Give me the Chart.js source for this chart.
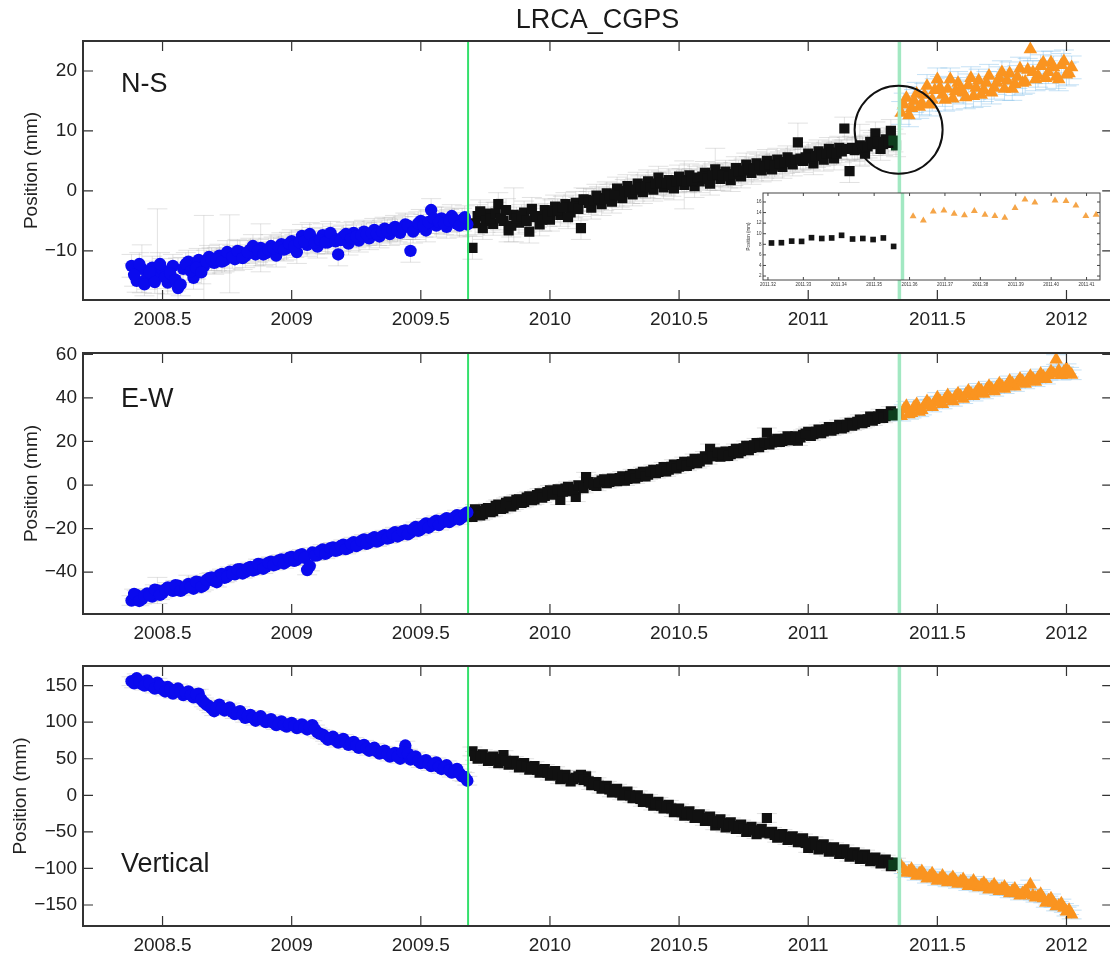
<!DOCTYPE html>
<html>
<head>
<meta charset="utf-8">
<title>LRCA_CGPS</title>
<script src="https://cdn.jsdelivr.net/npm/chart.js@4.4.1/dist/chart.umd.min.js"></script>
<style>
  html, body { margin: 0; padding: 0; background: #fff; }
  body { width: 1110px; height: 955px; overflow: hidden; position: relative; }
  canvas { position: absolute; left: 0; }
</style>
</head>
<body>
<canvas id="ns" width="1120" height="340" style="top:0"></canvas>
<canvas id="ew" width="1120" height="324" style="top:330px"></canvas>
<canvas id="up" width="1120" height="326" style="top:640px"></canvas>
<canvas id="inset" width="365" height="113" style="left:745px;top:186px"></canvas>
<script>
const FONT = '"Liberation Sans", Arial, Helvetica, sans-serif';

// epochs (decimal year), shared by the three components.
// "A" epochs on even hundredths, "B" epochs on odd hundredths.
const tBlue = [
  2008.38, 2008.40, 2008.42, 2008.44, 2008.46, 2008.48, 2008.50, 2008.52, 2008.54, 2008.56,
  2008.58, 2008.60, 2008.62, 2008.64, 2008.66, 2008.68, 2008.70, 2008.72, 2008.74, 2008.76,
  2008.78, 2008.80, 2008.82, 2008.84, 2008.86, 2008.88, 2008.90, 2008.92, 2008.94, 2008.96,
  2008.98, 2009.00, 2009.02, 2009.04, 2009.06, 2009.08, 2009.10, 2009.12, 2009.14, 2009.16,
  2009.18, 2009.20, 2009.22, 2009.24, 2009.26, 2009.28, 2009.30, 2009.32, 2009.34, 2009.36,
  2009.38, 2009.40, 2009.42, 2009.44, 2009.46, 2009.48, 2009.50, 2009.52, 2009.54, 2009.56,
  2009.58, 2009.60, 2009.62, 2009.64, 2009.66, 2009.68
];
const tBlueB = [
  2008.39, 2008.41, 2008.43, 2008.45, 2008.47, 2008.49, 2008.51, 2008.53, 2008.55, 2008.57,
  2008.59, 2008.61, 2008.63, 2008.65, 2008.67, 2008.69, 2008.71, 2008.73, 2008.75, 2008.77,
  2008.79, 2008.81, 2008.83, 2008.85, 2008.87, 2008.89, 2008.91, 2008.93, 2008.95, 2008.97,
  2008.99, 2009.01, 2009.03, 2009.05, 2009.07, 2009.09, 2009.11, 2009.13, 2009.15, 2009.17,
  2009.19, 2009.21, 2009.23, 2009.25, 2009.27, 2009.29, 2009.31, 2009.33, 2009.35, 2009.37,
  2009.39, 2009.41, 2009.43, 2009.45, 2009.47, 2009.49, 2009.51, 2009.53, 2009.55, 2009.57,
  2009.59, 2009.61, 2009.63, 2009.65, 2009.67
];
const tBlack = [
  2009.70, 2009.72, 2009.74, 2009.76, 2009.78, 2009.80, 2009.82, 2009.84, 2009.86, 2009.88,
  2009.90, 2009.92, 2009.94, 2009.96, 2009.98, 2010.00, 2010.02, 2010.04, 2010.06, 2010.08,
  2010.10, 2010.12, 2010.14, 2010.16, 2010.18, 2010.20, 2010.22, 2010.24, 2010.26, 2010.28,
  2010.30, 2010.32, 2010.34, 2010.36, 2010.38, 2010.40, 2010.42, 2010.44, 2010.46, 2010.48,
  2010.50, 2010.52, 2010.54, 2010.56, 2010.58, 2010.60, 2010.62, 2010.64, 2010.66, 2010.68,
  2010.70, 2010.72, 2010.74, 2010.76, 2010.78, 2010.80, 2010.82, 2010.84, 2010.86, 2010.88,
  2010.90, 2010.92, 2010.94, 2010.96, 2010.98, 2011.00, 2011.02, 2011.04, 2011.06, 2011.08,
  2011.10, 2011.12, 2011.14, 2011.16, 2011.18, 2011.20, 2011.22, 2011.24, 2011.26, 2011.28,
  2011.30, 2011.32, 2011.34
];
const tBlackB = [
  2009.71, 2009.73, 2009.75, 2009.77, 2009.79, 2009.81, 2009.83, 2009.85, 2009.87, 2009.89,
  2009.91, 2009.93, 2009.95, 2009.97, 2009.99, 2010.01, 2010.03, 2010.05, 2010.07, 2010.09,
  2010.11, 2010.13, 2010.15, 2010.17, 2010.19, 2010.21, 2010.23, 2010.25, 2010.27, 2010.29,
  2010.31, 2010.33, 2010.35, 2010.37, 2010.39, 2010.41, 2010.43, 2010.45, 2010.47, 2010.49,
  2010.51, 2010.53, 2010.55, 2010.57, 2010.59, 2010.61, 2010.63, 2010.65, 2010.67, 2010.69,
  2010.71, 2010.73, 2010.75, 2010.77, 2010.79, 2010.81, 2010.83, 2010.85, 2010.87, 2010.89,
  2010.91, 2010.93, 2010.95, 2010.97, 2010.99, 2011.01, 2011.03, 2011.05, 2011.07, 2011.09,
  2011.11, 2011.13, 2011.15, 2011.17, 2011.19, 2011.21, 2011.23, 2011.25, 2011.27, 2011.29,
  2011.31, 2011.33
];
const tOrange = [
  2011.36, 2011.38, 2011.40, 2011.42, 2011.44, 2011.46, 2011.48, 2011.50, 2011.52, 2011.54,
  2011.56, 2011.58, 2011.60, 2011.62, 2011.64, 2011.66, 2011.68, 2011.70, 2011.72, 2011.74,
  2011.76, 2011.78, 2011.80, 2011.82, 2011.84, 2011.86, 2011.88, 2011.90, 2011.92, 2011.94,
  2011.96, 2011.98, 2012.00, 2012.02
];
const tOrangeB = [
  2011.37, 2011.39, 2011.41, 2011.43, 2011.45, 2011.47, 2011.49, 2011.51, 2011.53, 2011.55,
  2011.57, 2011.59, 2011.61, 2011.63, 2011.65, 2011.67, 2011.69, 2011.71, 2011.73, 2011.75,
  2011.77, 2011.79, 2011.81, 2011.83, 2011.85, 2011.87, 2011.89, 2011.91, 2011.93, 2011.95,
  2011.97, 2011.99, 2012.01
];

// N-S position (mm)
const nsBlue = [
  -12.5, -15.0, -13.0, -14.5, -12.8, -14.0, -13.2, -15.3, -12.5, -16.2,
  -13.0, -11.8, -14.5, -11.5, -12.6, -11.0, -12.0, -10.8, -11.6, -10.5,
  -11.4, -10.2, -10.9, -9.8, -10.6, -9.5, -10.4, -9.2, -10.8, -8.9,
  -9.6, -8.4, -10.2, -7.5, -9.0, -8.0, -9.3, -7.4, -8.6, -7.8,
  -10.6, -7.6, -8.8, -7.0, -8.3, -6.8, -7.9, -6.5, -7.6, -6.3,
  -7.2, -6.0, -7.0, -5.6, -10.0, -6.2, -5.0, -6.6, -3.2, -5.8,
  -4.6, -6.0, -4.2, -5.5, -4.8, -5.6
];
const nsBlueB = [
  -14.0, -12.2, -15.6, -13.6, -15.2, -12.2, -14.4, -13.8, -14.8, -15.6,
  -12.2, -13.4, -12.8, -13.6, -11.8, -11.4, -11.4, -11.8, -10.2, -11.0,
  -10.0, -11.2, -10.2, -9.2, -10.0, -10.6, -9.8, -9.6, -9.4, -9.8,
  -8.8, -9.2, -8.6, -8.4, -7.2, -8.6, -8.2, -8.6, -7.0, -8.4,
  -8.2, -7.2, -8.0, -7.6, -7.4, -7.2, -7.0, -7.2, -6.8, -6.6,
  -6.4, -6.6, -6.2, -5.8, -6.8, -5.4, -5.8, -5.2, -4.6, -5.2,
  -5.4, -5.0, -4.8, -5.8, -4.4
];
const nsBlack = [
  -9.5, -4.2, -6.2, -3.8, -5.5, -2.2, -5.0, -6.6, -4.0, -5.3,
  -3.6, -6.8, -4.4, -5.6, -3.2, -4.8, -2.6, -4.0, -2.2, -3.6,
  -2.0, -6.2, -1.5, -2.8, -0.8, -2.2, -0.4, -1.8, 0.4, -1.2,
  0.8, -0.6, 1.2, -0.2, 1.6, 0.2, 2.2, 0.6, 1.8, 0.4,
  2.4, 1.0, 2.6, 0.8, 1.6, 3.0, 1.2, 3.6, 2.0, 3.2,
  1.8, 3.8, 2.4, 4.4, 3.0, 4.6, 3.4, 5.0, 3.6, 5.2,
  4.0, 5.6, 4.4, 8.1, 5.0, 6.2, 4.6, 6.6, 5.2, 7.0,
  5.4, 7.2, 10.4, 3.3, 6.8, 7.6, 6.2, 8.2, 9.6, 7.0,
  8.6, 10.0, 7.6
];
const nsBlackB = [
  -5.4, -3.4, -5.0, -4.6, -3.8, -4.6, -3.2, -5.8, -4.6, -4.2,
  -5.0, -3.0, -4.2, -4.8, -4.0, -3.4, -3.2, -2.8, -4.4, -2.6,
  -3.0, -1.4, -2.0, -1.6, -1.2, -1.4, -0.8, -0.6, -0.8, 0.0,
  -0.2, 0.2, 0.6, 0.8, 0.6, 1.2, 1.4, 1.2, 1.0, 1.6,
  1.8, 1.6, 1.8, 2.2, 2.4, 2.0, 2.6, 2.8, 2.6, 2.4,
  2.8, 3.2, 3.4, 3.8, 3.6, 4.2, 4.0, 4.4, 4.2, 4.6,
  4.8, 5.0, 5.2, 5.4, 5.6, 5.4, 5.8, 6.0, 6.2, 6.4,
  6.2, 6.6, 7.0, 7.2, 7.0, 7.2, 7.4, 7.8, 8.2, 7.8,
  8.0, 8.4
];
const nsOrange = [
  13.0, 15.5, 13.8, 16.2, 14.6, 17.5, 15.2, 18.6, 16.0, 17.0,
  15.4, 18.0, 16.4, 17.6, 15.8, 18.4, 16.8, 19.2, 17.2, 18.8,
  17.0, 19.6, 17.8, 20.4, 18.2, 23.6, 18.6, 20.8, 18.8, 21.4,
  19.0, 21.0, 19.4, 20.6
];
const nsOrangeB = [
  14.4, 12.6, 15.0, 14.0, 16.0, 14.4, 16.8, 17.2, 15.2, 18.6,
  16.6, 17.0, 15.6, 18.8, 17.2, 16.0, 18.0, 16.4, 18.0, 19.8,
  18.4, 17.0, 19.0, 18.0, 20.2, 19.8, 19.2, 21.4, 19.8, 20.6,
  18.6, 21.6, 19.6
];

// E-W position (mm)
const ewBlue = [
  -53.0, -50.6, -52.4, -49.8, -51.2, -48.4, -49.6, -47.0, -48.6, -46.2,
  -47.8, -45.4, -47.6, -44.6, -46.0, -42.8, -44.0, -41.4, -42.6, -39.8,
  -41.0, -38.6, -40.0, -37.6, -38.8, -36.4, -37.6, -35.2, -36.4, -34.2,
  -35.2, -33.0, -34.2, -31.8, -39.0, -31.0, -32.2, -29.6, -30.8, -28.6,
  -29.8, -27.4, -28.8, -26.2, -27.4, -25.0, -26.4, -24.0, -25.4, -23.0,
  -24.2, -21.6, -23.0, -20.8, -21.8, -19.2, -20.4, -17.6, -18.6, -16.4,
  -17.4, -15.2, -16.2, -13.8, -14.8, -12.6
];
const ewBlueB = [
  -50.0, -53.2, -50.8, -50.6, -48.0, -50.4, -48.0, -47.8, -46.0, -48.6,
  -47.0, -46.8, -44.4, -46.8, -43.6, -42.4, -44.6, -40.8, -42.0, -40.8,
  -38.8, -40.6, -38.2, -39.2, -36.2, -38.4, -35.6, -36.8, -34.6, -36.0,
  -33.4, -34.8, -32.2, -33.4, -37.2, -32.4, -30.4, -31.6, -29.0, -30.2,
  -28.0, -29.4, -27.0, -28.0, -25.6, -27.0, -24.6, -26.0, -23.6, -24.6,
  -22.4, -23.6, -21.2, -22.6, -20.2, -21.0, -18.6, -19.6, -17.2, -18.4,
  -16.0, -17.0, -14.8, -15.8, -13.4
];
const ewBlack = [
  -14.6, -12.0, -13.4, -10.6, -12.0, -9.0, -10.6, -7.6, -9.0, -6.6,
  -7.8, -5.2, -6.6, -3.8, -5.0, -2.4, -3.8, -6.8, -1.6, -2.8,
  -5.4, -0.8, 3.6, 0.6, -0.4, 2.0, 0.8, 3.0, 1.8, 4.0,
  2.8, 5.0, 3.8, 6.0, 4.8, 7.0, 6.0, 8.2, 7.0, 9.4,
  8.4, 10.6, 9.6, 12.0, 10.8, 13.2, 16.6, 14.0, 13.0, 15.4,
  14.2, 16.6, 15.6, 18.0, 17.0, 19.2, 18.4, 24.0, 19.6, 21.2,
  20.2, 22.4, 21.4, 20.4, 23.0, 24.4, 23.4, 25.4, 24.6, 26.6,
  25.6, 27.6, 26.6, 28.6, 27.8, 30.0, 29.0, 31.4, 30.4, 32.6,
  31.6, 33.8, 32.8
];
const ewBlackB = [
  -11.2, -14.0, -11.0, -12.4, -9.6, -11.0, -8.2, -9.8, -6.8, -8.2,
  -5.8, -7.0, -4.6, -5.8, -3.2, -4.4, -2.0, -3.0, -0.8, -2.0,
  -0.2, -1.4, 1.4, 0.0, 1.2, 2.6, 1.4, 2.4, 3.2, 2.0,
  4.2, 3.0, 5.2, 4.0, 6.2, 5.4, 7.2, 6.2, 8.4, 7.6,
  9.6, 8.8, 10.8, 10.0, 12.0, 11.8, 13.2, 15.0, 14.0, 13.4,
  15.6, 14.6, 16.8, 16.0, 18.2, 17.4, 19.4, 18.6, 20.4, 19.8,
  21.2, 20.6, 22.4, 21.8, 23.6, 22.6, 24.4, 23.8, 25.6, 25.0,
  26.6, 26.0, 27.6, 27.2, 29.0, 28.4, 30.2, 29.6, 31.4, 30.8,
  32.6, 32.0
];
const ewOrange = [
  31.6, 36.2, 33.0, 37.0, 34.4, 38.4, 35.8, 40.2, 37.2, 41.2,
  38.4, 42.0, 39.6, 43.2, 40.8, 44.4, 41.8, 45.4, 43.0, 46.6,
  44.2, 47.8, 45.2, 48.8, 46.4, 50.0, 47.4, 51.0, 48.6, 52.2,
  57.6, 50.4, 53.4, 50.6
];
const ewOrangeB = [
  34.6, 32.4, 35.8, 33.6, 36.6, 37.2, 37.8, 38.6, 39.4, 39.6,
  40.6, 40.8, 41.6, 42.0, 42.6, 43.2, 43.8, 44.2, 44.8, 45.4,
  45.8, 46.6, 47.0, 47.6, 48.2, 48.8, 49.2, 49.8, 50.4, 51.0,
  52.6, 52.0, 51.8
];

// Vertical position (mm)
const upBlue = [
  156, 160, 152, 157, 149, 154, 145, 148, 139, 146,
  137, 142, 134, 139, 127, 122, 115, 124, 116, 120,
  111, 115, 106, 110, 102, 108, 100, 104, 96, 101,
  94, 99, 92, 97, 90, 96, 86, 83, 76, 80,
  72, 77, 69, 73, 65, 69, 61, 65, 57, 61,
  53, 58, 50, 68, 49, 53, 44, 48, 40, 45,
  36, 41, 31, 36, 26, 20
];
const upBlueB = [
  153, 156, 150, 153, 146, 150, 142, 145, 143, 141,
  140, 137, 138, 131, 124, 119, 120, 119, 118, 114,
  113, 110, 108, 106, 105, 103, 102, 99, 98, 96,
  97, 95, 94, 93, 93, 90, 84, 80, 78, 75,
  74, 72, 71, 68, 67, 64, 63, 60, 59, 56,
  56, 53, 59, 57, 51, 47, 46, 43, 42, 39,
  38, 34, 33, 30, 25
];
const upBlack = [
  60, 50, 56, 47, 53, 44, 55, 42, 47, 38,
  44, 35, 40, 31, 36, 27, 33, 22, 28, 19,
  24, 28, 26, 14, 18, 9, 13, 4, 9, 0,
  5, -4, 0, -9, -5, -14, -9, -18, -13, -23,
  -18, -28, -22, -31, -26, -35, -29, -41, -33, -44,
  -37, -46, -40, -50, -43, -53, -46, -31, -50, -58,
  -53, -61, -56, -64, -59, -72, -63, -74, -67, -77,
  -71, -80, -74, -84, -78, -87, -81, -90, -85, -93,
  -88, -97, -92
];
const upBlackB = [
  54, 53, 51, 50, 48, 50, 47, 45, 43, 41,
  39, 38, 35, 34, 31, 30, 28, 25, 23, 22,
  26, 21, 19, 16, 13, 11, 8, 7, 4, 2,
  0, -2, -5, -7, -10, -11, -14, -16, -18, -20,
  -23, -25, -27, -28, -31, -32, -35, -37, -38, -40,
  -42, -43, -45, -47, -48, -50, -51, -52, -54, -55,
  -57, -58, -60, -62, -65, -67, -68, -70, -72, -74,
  -75, -77, -79, -81, -82, -84, -86, -87, -89, -91,
  -92, -95
];
const upOrange = [
  -97, -106, -101, -110, -104, -114, -107, -117, -110, -119,
  -112, -121, -115, -124, -117, -126, -120, -129, -122, -131,
  -125, -134, -128, -137, -131, -122, -140, -135, -147, -141,
  -152, -148, -159, -163
];
const upOrangeB = [
  -101, -104, -106, -107, -109, -111, -112, -114, -115, -116,
  -117, -118, -120, -121, -122, -123, -124, -126, -127, -128,
  -130, -131, -133, -134, -135, -137, -138, -141, -144, -147,
  -151, -154, -157
];

// one-sigma error (mm): usual size, plus the few long bars
const nsSigma = 1.9;
const nsWideErr = [[2008.42, 4], [2008.48, 11], [2008.56, 5], [2008.66, 8.5], [2008.76, 6.5],
  [2008.88, 4], [2009.86, 4.5], [2010.52, 4], [2010.64, 3.5], [2010.96, 3.2], [2011.20, 3.5]];
const ewSigma = 2.2;
const ewWideErr = [[2008.48, 6], [2008.60, 4]];
const upSigma = 6;

const eventT = [2009.683, 2011.353];

const xTicks = [2008.5, 2009, 2009.5, 2010, 2010.5, 2011, 2011.5, 2012];
const nsTicks = [-10, 0, 10, 20];
const ewTicks = [-40, -20, 0, 20, 40, 60];
const upTicks = [-150, -100, -50, 0, 50, 100, 150];

// inset: daily N-S solutions around the second event
const insetBlackT = [2011.3210, 2011.3238, 2011.3267, 2011.3295, 2011.3323, 2011.3352, 2011.3380,
  2011.3408, 2011.3439, 2011.3468, 2011.3497, 2011.3526, 2011.3555];
const insetBlackY = [8.25, 8.3, 8.6, 8.55, 9.25, 9.1, 9.2, 9.7, 9.0, 9.1, 8.9, 9.2, 7.6];
const insetOrangeT = [2011.3610, 2011.3639, 2011.3667, 2011.3697, 2011.3726, 2011.3755, 2011.3783,
  2011.3813, 2011.3841, 2011.3869, 2011.3898, 2011.3926, 2011.3954, 2011.4011, 2011.4042,
  2011.4070, 2011.4098, 2011.4127];
const insetOrangeY = [13.3, 12.5, 14.2, 14.4, 13.8, 13.5, 14.3, 13.6, 13.35, 13.0, 14.85, 16.45,
  15.9, 16.3, 16.2, 15.35, 13.35, 13.6];
const insetEventT = 2011.358;
const insetTicksX = [2011.32, 2011.33, 2011.34, 2011.35, 2011.36, 2011.37, 2011.38, 2011.39, 2011.40, 2011.41];
const insetTicksY = [2, 4, 6, 8, 10, 12, 14, 16];

const BLUE = '#0a0aee', BLACK = '#111111', TAIL = '#0c3d1c', ORANGE = '#fa9420';
const GRAY_ERR = 'rgba(150,150,150,0.28)', BLUE_ERR = 'rgba(110,180,230,0.4)';

function pts(t, v) { return t.map((x, i) => ({ x: x, y: v[i] })); }
function sigmas(t, base, wide) {
  return t.map(x => {
    const w = (wide || []).find(p => Math.abs(p[0] - x) < 0.005);
    return w ? w[1] : base;
  });
}
function minus(v) { return v < 0 ? '\u2212' + Math.abs(v) : String(v); }

const decor = {
  id: 'decor',
  beforeDatasetsDraw(chart) {
    const { ctx, chartArea: a, scales: { x, y } } = chart;
    ctx.save();
    ctx.beginPath();
    ctx.rect(a.left, a.top, a.right - a.left, a.bottom - a.top);
    ctx.clip();
    ctx.lineWidth = 1;
    chart.data.datasets.forEach(ds => {
      if (!ds.sigma) return;
      ctx.strokeStyle = ds.errColor;
      ds.data.forEach((p, i) => {
        const px = x.getPixelForValue(p.x);
        const y1 = y.getPixelForValue(p.y - ds.sigma[i]);
        const y2 = y.getPixelForValue(p.y + ds.sigma[i]);
        ctx.beginPath();
        ctx.moveTo(px, y1); ctx.lineTo(px, y2);
        ctx.moveTo(px - 10, y1); ctx.lineTo(px + 10, y1);
        ctx.moveTo(px - 10, y2); ctx.lineTo(px + 10, y2);
        ctx.stroke();
      });
    });
    ctx.restore();
  },
  afterDatasetsDraw(chart, args, opts) {
    const { ctx, chartArea: a, scales: { x, y } } = chart;
    ctx.save();
    (opts.events || []).forEach(ev => {
      const px = x.getPixelForValue(ev.t);
      ctx.strokeStyle = ev.color;
      ctx.lineWidth = ev.width;
      ctx.beginPath();
      ctx.moveTo(px, a.top); ctx.lineTo(px, a.bottom);
      ctx.stroke();
    });
    if (opts.circle) {
      ctx.strokeStyle = '#111';
      ctx.lineWidth = 2;
      ctx.beginPath();
      ctx.arc(x.getPixelForValue(opts.circle.x), y.getPixelForValue(opts.circle.y), opts.circle.r, 0, Math.PI * 2);
      ctx.stroke();
    }
    ctx.strokeStyle = opts.frameColor || '#333';
    ctx.lineWidth = opts.frameWidth || 2;
    ctx.strokeRect(a.left, a.top, a.right - a.left, a.bottom - a.top);
    const L = opts.tickLen || 10;
    ctx.lineWidth = opts.tickWidth || 1.2;
    ctx.beginPath();
    x.ticks.forEach(t => {
      const px = x.getPixelForValue(t.value);
      ctx.moveTo(px, a.bottom); ctx.lineTo(px, a.bottom - L);
      ctx.moveTo(px, a.top); ctx.lineTo(px, a.top + L);
    });
    y.ticks.forEach(t => {
      const py = y.getPixelForValue(t.value);
      ctx.moveTo(a.left, py); ctx.lineTo(a.left + L, py);
      ctx.moveTo(a.right, py); ctx.lineTo(a.right - L, py);
    });
    ctx.stroke();
    if (opts.label) {
      ctx.fillStyle = '#1a1a1a';
      ctx.font = '27px ' + FONT;
      ctx.textBaseline = 'alphabetic';
      ctx.textAlign = 'left';
      ctx.fillText(opts.label, a.left + 38, a.top + opts.labelDy);
    }
    ctx.restore();
  }
};

function series(t, v, shape, r, color, sig, errColor) {
  return {
    data: pts(t, v), sigma: sig, errColor: errColor,
    pointStyle: shape, pointRadius: r, pointBorderWidth: 0,
    pointBackgroundColor: color, showLine: false
  };
}

function makePanel(id, p) {
  // the last few days before the second event are plotted in dark green
  const tailColor = c => (c.raw && c.raw.x > 2011.325 ? TAIL : BLACK);
  const tB = tBlue.concat(tBlueB), tK = tBlack.concat(tBlackB), tO = tOrange.concat(tOrangeB);
  return new Chart(document.getElementById(id), {
    type: 'scatter',
    data: {
      datasets: [
        series(tB, p.blue, 'circle', 6.2, BLUE, sigmas(tB, p.sigma, p.wide), GRAY_ERR),
        series(tK, p.black, 'rect', 7.2, tailColor, sigmas(tK, p.sigma, p.wide), GRAY_ERR),
        series(tO, p.orange, 'triangle', 7.8, ORANGE, sigmas(tO, p.sigma, p.wide), BLUE_ERR)
      ]
    },
    options: {
      responsive: false, animation: false, devicePixelRatio: 1, events: [],
      layout: { padding: { left: 0, right: 3, top: p.padTop, bottom: 0 } },
      scales: {
        x: {
          type: 'linear', min: 2008.192, max: 2012.177,
          grid: { display: false, drawTicks: false }, border: { display: false },
          afterBuildTicks: s => { s.ticks = xTicks.map(v => ({ value: v })); },
          afterFit: s => { s.height = 40; },
          ticks: { font: { family: FONT, size: 19 }, color: '#222', padding: 8, maxRotation: 0, autoSkip: false,
            callback: v => String(v) }
        },
        y: {
          type: 'linear', min: p.min, max: p.max,
          grid: { display: false, drawTicks: false }, border: { display: false },
          afterBuildTicks: s => { s.ticks = p.ticks.map(v => ({ value: v })); },
          afterFit: s => { s.width = 83; },
          ticks: { font: { family: FONT, size: 19 }, color: '#222', padding: 6, callback: v => minus(v) },
          title: { display: true, text: 'Position (mm)', color: '#222', font: { family: FONT, size: 19 },
            padding: { top: p.titlePad, bottom: 0 } }
        }
      },
      plugins: {
        legend: { display: false }, tooltip: { enabled: false },
        title: p.title ? { display: true, text: p.title, fullSize: false, color: '#1a1a1a',
          font: { family: FONT, size: 27, weight: 'normal' }, padding: { top: 4, bottom: 4.6 } } : { display: false },
        decor: {
          label: p.label, labelDy: p.labelDy, circle: p.circle,
          events: [
            { t: eventT[0], color: '#34e06c', width: 2 },
            { t: eventT[1], color: '#a2e8c2', width: 3.5 }
          ]
        }
      }
    },
    plugins: [decor]
  });
}

makePanel('ns', { blue: nsBlue.concat(nsBlueB), black: nsBlack.concat(nsBlackB), orange: nsOrange.concat(nsOrangeB),
  sigma: nsSigma, wide: nsWideErr, min: -18.2, max: 25, ticks: nsTicks, padTop: 0, titlePad: 20,
  title: 'LRCA_CGPS', label: 'N-S', labelDy: 51, circle: { x: 2011.35, y: 10.2, r: 44 } });
makePanel('ew', { blue: ewBlue.concat(ewBlueB), black: ewBlack.concat(ewBlackB), orange: ewOrange.concat(ewOrangeB),
  sigma: ewSigma, wide: ewWideErr, min: -59.2, max: 60.6, ticks: ewTicks, padTop: 23, titlePad: 20,
  label: 'E-W', labelDy: 54 });
makePanel('up', { blue: upBlue.concat(upBlueB), black: upBlack.concat(upBlackB), orange: upOrange.concat(upOrangeB),
  sigma: upSigma, wide: [], min: -178.7, max: 176.8, ticks: upTicks, padTop: 26, titlePad: 9,
  label: 'Vertical', labelDy: 206 });

// inset
const insetDecor = {
  id: 'insetDecor',
  beforeDraw(chart) {
    const { ctx, chartArea: a } = chart;
    ctx.save();
    ctx.fillStyle = '#fff';
    ctx.fillRect(a.left, a.top, a.right - a.left, a.bottom - a.top);
    ctx.restore();
  },
  afterDatasetsDraw(chart) {
    const { ctx, chartArea: a, scales: { x, y } } = chart;
    ctx.save();
    const px = x.getPixelForValue(insetEventT);
    ctx.strokeStyle = '#a2e8c2';
    ctx.lineWidth = 3.5;
    ctx.beginPath(); ctx.moveTo(px, a.top); ctx.lineTo(px, a.bottom); ctx.stroke();
    ctx.strokeStyle = '#444';
    ctx.lineWidth = 1;
    ctx.strokeRect(a.left, a.top, a.right - a.left, a.bottom - a.top);
    ctx.beginPath();
    x.ticks.forEach(t => {
      const q = x.getPixelForValue(t.value);
      ctx.moveTo(q, a.bottom); ctx.lineTo(q, a.bottom - 3);
      ctx.moveTo(q, a.top); ctx.lineTo(q, a.top + 3);
    });
    y.ticks.forEach(t => {
      const q = y.getPixelForValue(t.value);
      ctx.moveTo(a.left, q); ctx.lineTo(a.left + 3, q);
      ctx.moveTo(a.right, q); ctx.lineTo(a.right - 3, q);
    });
    ctx.stroke();
    ctx.restore();
  }
};

new Chart(document.getElementById('inset'), {
  type: 'scatter',
  data: {
    datasets: [
      { data: pts(insetBlackT, insetBlackY), pointStyle: 'rect', pointRadius: 4, pointBorderWidth: 0,
        pointBackgroundColor: '#151515' },
      { data: pts(insetOrangeT, insetOrangeY), pointStyle: 'triangle', pointRadius: 4, pointBorderWidth: 0,
        pointBackgroundColor: '#f5a548' }
    ]
  },
  options: {
    responsive: false, animation: false, devicePixelRatio: 1, events: [],
    layout: { padding: { left: 0, right: 10, top: 7, bottom: 0 } },
    scales: {
      x: {
        type: 'linear', min: 2011.3186, max: 2011.4138,
        grid: { display: false, drawTicks: false }, border: { display: false },
        afterBuildTicks: s => { s.ticks = insetTicksX.map(v => ({ value: v })); },
        afterFit: s => { s.height = 19; },
        ticks: { font: { family: FONT, size: 4.5 }, color: '#333', padding: 2, maxRotation: 0, autoSkip: false,
          callback: v => v.toFixed(2) }
      },
      y: {
        type: 'linear', min: 1.25, max: 17.7,
        grid: { display: false, drawTicks: false }, border: { display: false },
        afterBuildTicks: s => { s.ticks = insetTicksY.map(v => ({ value: v })); },
        afterFit: s => { s.width = 18; },
        ticks: { font: { family: FONT, size: 4.5 }, color: '#333', padding: 1.5 },
        title: { display: true, text: 'Position (mm)', color: '#333', font: { family: FONT, size: 4.5 },
          padding: { top: 1, bottom: 0 } }
      }
    },
    plugins: { legend: { display: false }, tooltip: { enabled: false } }
  },
  plugins: [insetDecor]
});
</script>
</body>
</html>
